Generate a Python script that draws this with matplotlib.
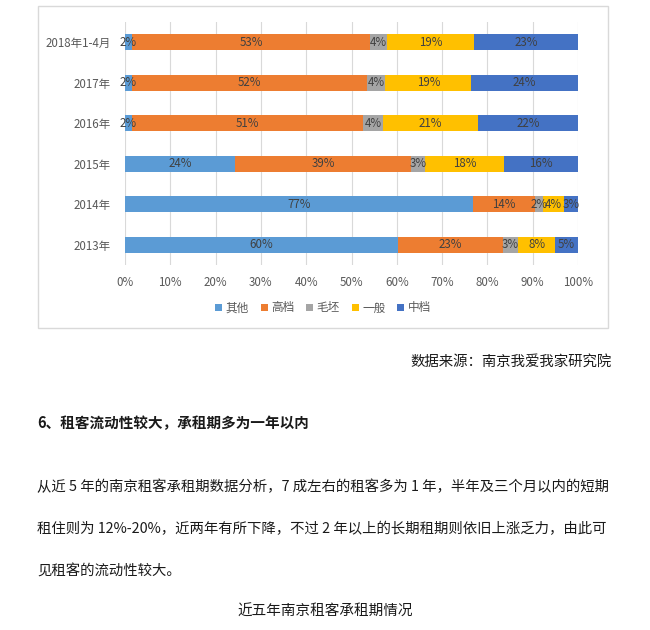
import matplotlib
matplotlib.use('Agg')
import matplotlib.pyplot as plt
from matplotlib.patches import Rectangle

plt.rcParams['font.family'] = ['Noto Sans CJK SC', 'DejaVu Sans']

# data (bottom row first)
years = ['2013年', '2014年', '2015年', '2016年', '2017年', '2018年1-4月']
series_names = ['其他', '高档', '毛坯', '一般', '中档']
other = [60.3, 76.8, 24.3, 1.5, 1.5, 1.5]
high = [23.2, 13.8, 38.8, 51.1, 51.9, 52.6]
rough = [3.3, 1.7, 3.1, 4.4, 4.1, 3.8]
normal = [8.2, 4.5, 17.5, 21.0, 18.9, 19.1]
mid = [5.0, 3.2, 16.3, 22.0, 23.6, 23.0]
labels = [
    ['60%', '77%', '24%', '2%', '2%', '2%'],
    ['23%', '14%', '39%', '51%', '52%', '53%'],
    ['3%', '2%', '3%', '4%', '4%', '4%'],
    ['8%', '4%', '18%', '21%', '19%', '19%'],
    ['5%', '3%', '16%', '22%', '24%', '23%'],
]
colors = ['#5B9BD5', '#ED7D31', '#A5A5A5', '#FFC000', '#4472C4']

source_text = '数据来源：南京我爱我家研究院'
heading = '6、租客流动性较大，承租期多为一年以内'
para_lines = [
    '从近 5 年的南京租客承租期数据分析，7 成左右的租客多为 1 年，半年及三个月以内的短期',
    '租住则为 12%-20%，近两年有所下降，不过 2 年以上的长期租期则依旧上涨乏力，由此可',
    '见租客的流动性较大。',
]
caption = '近五年南京租客承租期情况'

W, H = 650, 630
fig = plt.figure(figsize=(W / 100, H / 100), dpi=100)

def fx(px):
    return px / W

def fy(py):
    return 1 - py / H

# chart frame
fig.patches.append(Rectangle((fx(38), fy(328)), fx(570), 322 / H,
                             transform=fig.transFigure, fill=False,
                             edgecolor='#D9D9D9', linewidth=1.0))

ax = fig.add_axes([fx(125), fy(265.3), fx(453), 243.6 / H])
ypos = list(range(len(years)))
left = [0.0] * len(years)
all_series = [other, high, rough, normal, mid]
handles = []
for name, vals, col, labs in zip(series_names, all_series, colors, labels):
    bars = ax.barh(ypos, vals, left=left, height=0.39, color=col, label=name, zorder=3)
    handles.append(bars)
    for b, lab in zip(bars, labs):
        cx = b.get_x() + b.get_width() / 2
        ax.text(cx, b.get_y() + b.get_height() / 2, lab, ha='center', va='center',
                fontsize=8.3, color='#404040', zorder=4)
    left = [l + v for l, v in zip(left, vals)]

ax.set_xlim(0, 100)
ax.set_ylim(-0.5, len(years) - 0.5)
ax.set_xticks(range(0, 101, 10))
ax.set_xticklabels([f'{t}%' for t in range(0, 101, 10)])
ax.set_yticks(ypos)
ax.set_yticklabels(years)
ax.tick_params(axis='both', length=0, labelsize=8.3, labelcolor='#595959')
ax.tick_params(axis='x', pad=8)
ax.tick_params(axis='y', pad=10)
ax.grid(axis='x', color='#D9D9D9', linewidth=0.8, zorder=0)
for s in ax.spines.values():
    s.set_visible(False)

fig.legend(handles=handles, labels=series_names, loc='center',
           bbox_to_anchor=(fx(323), fy(308)), ncol=5, frameon=False,
           fontsize=8.4, labelcolor='#595959', handlelength=0.6, handleheight=0.6,
           handletextpad=0.3, columnspacing=1.0)

# document text below the chart
fig.text(fx(612), fy(362), source_text, ha='right', va='center', fontsize=10.4, color='#1a1a1a')
fig.text(fx(37), fy(423), heading, ha='left', va='center', fontsize=10.5,
         fontweight='bold', color='#1a1a1a')
for i, line in enumerate(para_lines):
    fig.text(fx(37), fy(487 + i * 42), line, ha='left', va='center', fontsize=10.35,
             color='#1a1a1a')
fig.text(fx(325), fy(612), caption, ha='center', va='center', fontsize=10.5, color='#1a1a1a')

fig.savefig('out.png', dpi=100)
